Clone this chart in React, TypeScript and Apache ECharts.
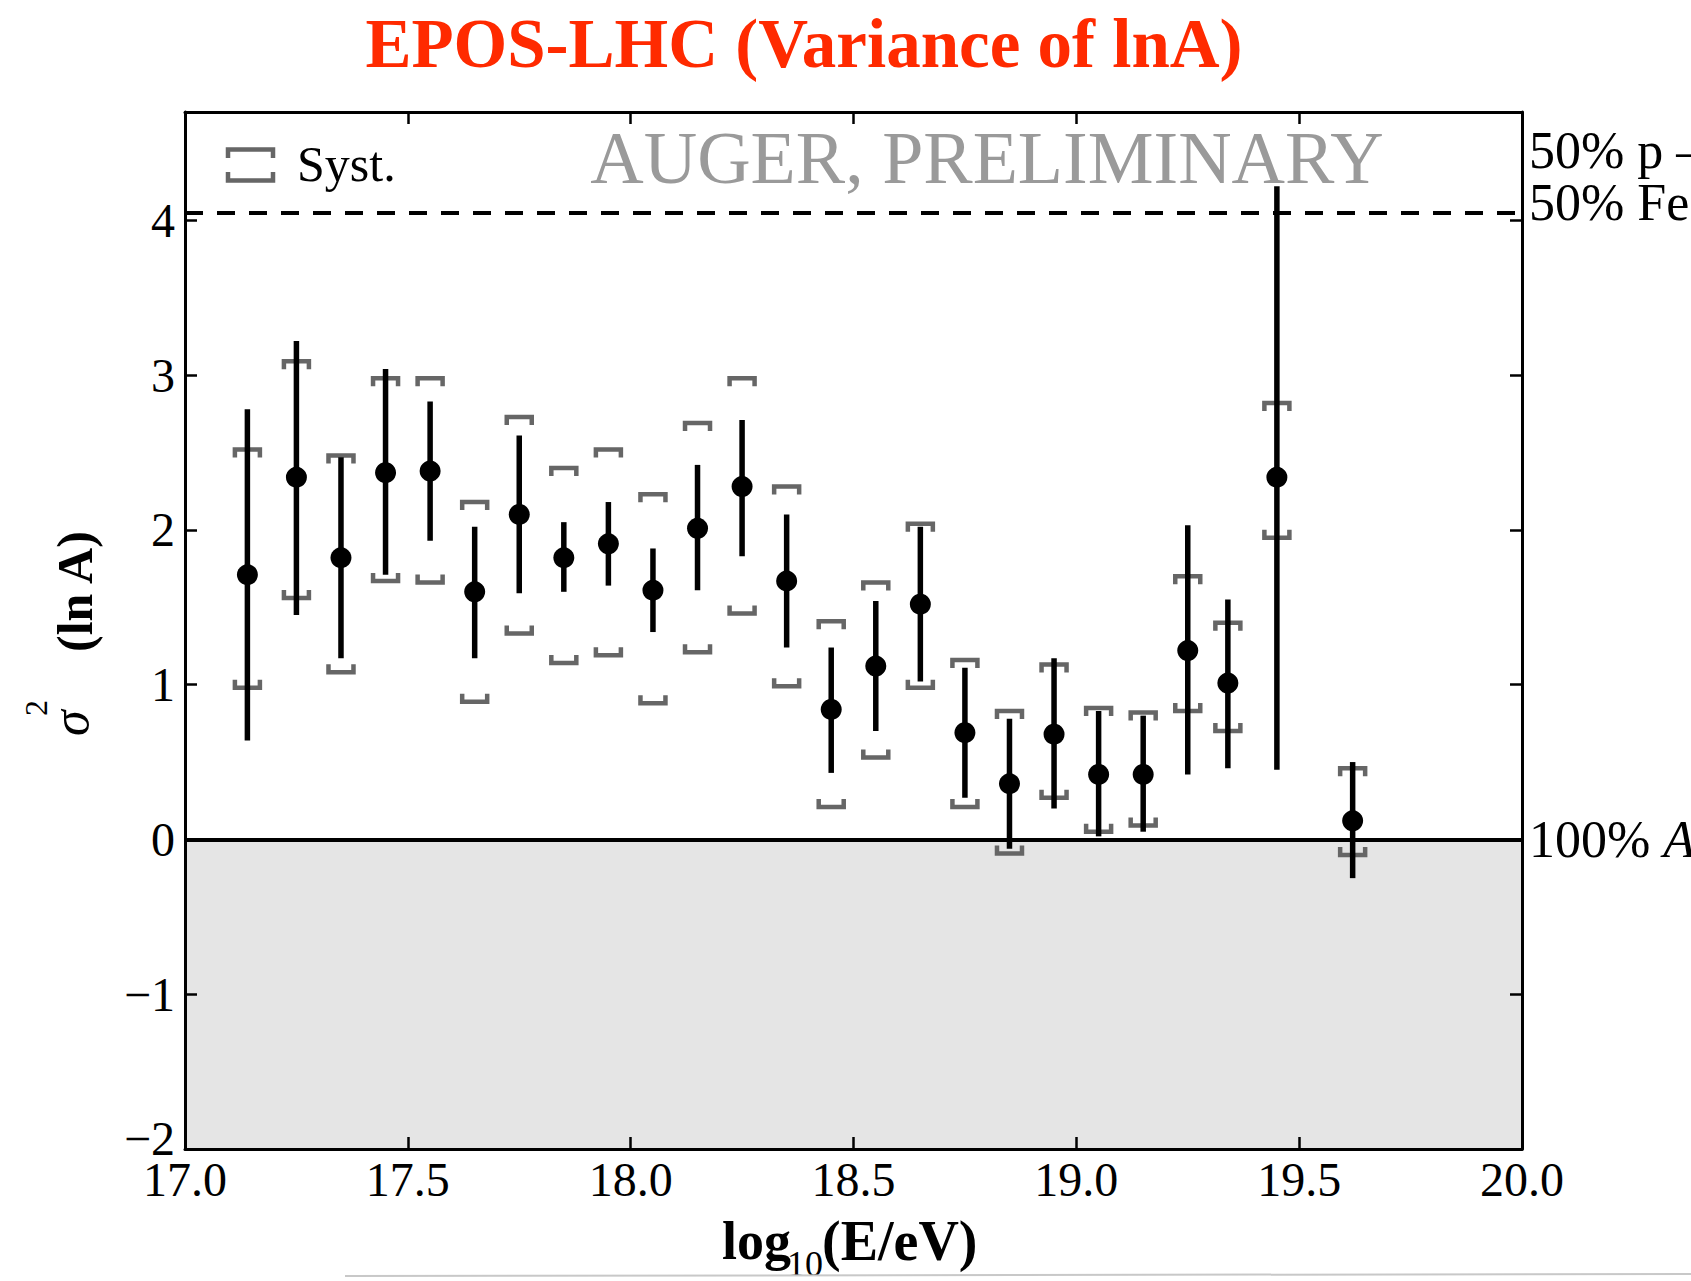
import React, { useEffect, useRef } from "react";
import * as echarts from "echarts";

// ---- data ----
const lgE = [17.14, 17.25, 17.35, 17.45, 17.55, 17.65, 17.75, 17.85, 17.95, 18.05, 18.15, 18.25, 18.35, 18.45, 18.55, 18.65, 18.75, 18.85, 18.95, 19.05, 19.15, 19.25, 19.34, 19.45, 19.62];
const variance = [1.71, 2.34, 1.82, 2.37, 2.38, 1.60, 2.10, 1.82, 1.91, 1.61, 2.01, 2.28, 1.67, 0.84, 1.12, 1.52, 0.69, 0.36, 0.68, 0.42, 0.42, 1.22, 1.01, 2.34, 0.12];
const statLow = [0.64, 1.45, 1.17, 1.71, 1.93, 1.17, 1.59, 1.60, 1.64, 1.34, 1.61, 1.83, 1.24, 0.43, 0.70, 1.02, 0.27, -0.06, 0.20, 0.02, 0.05, 0.42, 0.46, 0.45, -0.25];
const statHigh = [2.78, 3.22, 2.47, 3.04, 2.83, 2.02, 2.61, 2.05, 2.18, 1.88, 2.42, 2.71, 2.10, 1.24, 1.54, 2.02, 1.11, 0.78, 1.17, 0.83, 0.80, 2.03, 1.55, 4.22, 0.50];
const systLow = [0.98, 1.56, 1.08, 1.67, 1.66, 0.89, 1.33, 1.14, 1.19, 0.88, 1.21, 1.46, 0.99, 0.21, 0.53, 0.98, 0.21, -0.09, 0.27, 0.05, 0.09, 0.83, 0.70, 1.95, -0.10];
const systHigh = [2.52, 3.09, 2.48, 2.98, 2.98, 2.18, 2.73, 2.40, 2.52, 2.23, 2.69, 2.98, 2.28, 1.41, 1.66, 2.04, 1.16, 0.83, 1.13, 0.85, 0.82, 1.70, 1.40, 2.82, 0.46];

const pFeLevel = 4.05; // 50% p - 50% Fe
const pureLevel = 0; // 100% A
const xTicks = { min: 17, max: 20, step: 0.5 };
const yTicks = { min: -2, max: 4.7, step: 1 };

const SERIF = "'Liberation Serif', 'Times New Roman', serif";

export default function App() {
  const ref = useRef<HTMLDivElement>(null);

  useEffect(() => {
    if (!ref.current) return;
    const chart = echarts.init(ref.current, null, { renderer: "svg" });

    const statData = lgE.map((x, i) => [x, statLow[i], statHigh[i]]);
    const systData = lgE.map((x, i) => [x, systLow[i], systHigh[i]]);
    const pointData = lgE.map((x, i) => [x, variance[i]]);

    const yFmt = (v: number) => {
      if (Math.abs(v - Math.round(v)) > 1e-6) return "";
      const r = Math.round(v);
      if (r === yTicks.min) return "{lo|\u2212" + Math.abs(r) + "}";
      return r < 0 ? "\u2212" + Math.abs(r) : String(r);
    };

    const axisCommon = {
      axisLine: { show: true, onZero: false, lineStyle: { color: "#000", width: 3 } },
      axisTick: { show: true, inside: true, length: 12, lineStyle: { color: "#000", width: 2.5 } },
      splitLine: { show: false },
      z: 10,
    };

    const gray = "#666666";

    const option: any = {
      animation: false,
      backgroundColor: "#ffffff",
      grid: { left: 185, right: 169, top: 112, bottom: 132, containLabel: false },
      xAxis: [
        {
          type: "value",
          position: "bottom",
          min: xTicks.min,
          max: xTicks.max,
          interval: xTicks.step,
          ...axisCommon,
          axisLabel: {
            show: true,
            color: "#000",
            fontFamily: SERIF,
            fontSize: 48,
            margin: 6,
            formatter: (v: number) => v.toFixed(1),
          },
        },
        {
          type: "value",
          position: "top",
          min: xTicks.min,
          max: xTicks.max,
          interval: xTicks.step,
          ...axisCommon,
          axisLabel: { show: false },
        },
      ],
      yAxis: [
        {
          type: "value",
          position: "left",
          min: yTicks.min,
          max: yTicks.max,
          interval: yTicks.step,
          ...axisCommon,
          axisLabel: {
            show: true,
            color: "#000",
            fontFamily: SERIF,
            fontSize: 48,
            margin: 10,
            formatter: yFmt,
            rich: {
              lo: { fontFamily: SERIF, fontSize: 48, color: "#000", padding: [0, 0, 22, 0] },
            },
          },
        },
        {
          type: "value",
          position: "right",
          min: yTicks.min,
          max: yTicks.max,
          interval: yTicks.step,
          ...axisCommon,
          axisLabel: { show: false },
        },
      ],
      series: [
        {
          type: "line",
          data: [],
          z: 1,
          silent: true,
          markArea: {
            silent: true,
            itemStyle: { color: "#e5e5e5" },
            data: [[{ yAxis: yTicks.min }, { yAxis: pureLevel }]],
          },
          markLine: {
            silent: true,
            symbol: "none",
            label: { show: false },
            data: [
              { yAxis: pureLevel, lineStyle: { color: "#000", width: 4, type: "solid" } },
              { yAxis: pFeLevel, lineStyle: { color: "#000", width: 4, type: [18, 14] } },
            ],
          },
        },
        {
          type: "custom",
          z: 3,
          silent: true,
          data: systData,
          renderItem: (params: any, api: any) => {
            const x = api.value(0);
            const lo = api.coord([x, api.value(1)]);
            const hi = api.coord([x, api.value(2)]);
            const w = 12.5;
            const leg = 8;
            const st = { stroke: gray, lineWidth: 4.5, fill: null, lineJoin: "miter", lineCap: "butt" };
            return {
              type: "group",
              children: [
                {
                  type: "polyline",
                  shape: { points: [[hi[0] - w, hi[1] + leg], [hi[0] - w, hi[1]], [hi[0] + w, hi[1]], [hi[0] + w, hi[1] + leg]] },
                  style: st,
                },
                {
                  type: "polyline",
                  shape: { points: [[lo[0] - w, lo[1] - leg], [lo[0] - w, lo[1]], [lo[0] + w, lo[1]], [lo[0] + w, lo[1] - leg]] },
                  style: st,
                },
              ],
            };
          },
        },
        {
          type: "custom",
          z: 4,
          silent: true,
          data: statData,
          renderItem: (params: any, api: any) => {
            const x = api.value(0);
            const lo = api.coord([x, api.value(1)]);
            const hi = api.coord([x, api.value(2)]);
            return {
              type: "line",
              shape: { x1: lo[0], y1: lo[1], x2: hi[0], y2: hi[1] },
              style: { stroke: "#000", lineWidth: 5.5, lineCap: "butt" },
            };
          },
        },
        {
          type: "scatter",
          z: 5,
          silent: true,
          symbol: "circle",
          symbolSize: 21,
          itemStyle: { color: "#000", opacity: 1 },
          data: pointData,
        },
      ],
      graphic: [
        {
          type: "text",
          x: 804,
          y: 44,
          style: {
            text: "EPOS-LHC (Variance of lnA)",
            fill: "#ff2a00",
            font: `bold 69px ${SERIF}`,
            textAlign: "center",
            textVerticalAlign: "middle",
          },
        },
        {
          type: "text",
          x: 987,
          y: 158,
          z: 20,
          style: {
            text: "AUGER, PRELIMINARY",
            fill: "#9a9a9a",
            font: `74px ${SERIF}`,
            textAlign: "center",
            textVerticalAlign: "middle",
          },
        },
        // legend icon
        {
          type: "polyline",
          z: 20,
          shape: { points: [[228, 158], [228, 149.5], [273, 149.5], [273, 158]] },
          style: { stroke: gray, lineWidth: 4.5, fill: null },
        },
        {
          type: "polyline",
          z: 20,
          shape: { points: [[228, 172], [228, 180.5], [273, 180.5], [273, 172]] },
          style: { stroke: gray, lineWidth: 4.5, fill: null },
        },
        {
          type: "text",
          x: 297,
          y: 164,
          z: 20,
          style: { text: "Syst.", fill: "#000", font: `50px ${SERIF}`, textVerticalAlign: "middle" },
        },
        // right side labels
        {
          type: "text",
          x: 1529,
          y: 150,
          style: { text: "50% p \u2013", fill: "#000", font: `52px ${SERIF}`, textVerticalAlign: "middle" },
        },
        {
          type: "text",
          x: 1529,
          y: 202,
          style: { text: "50% Fe", fill: "#000", font: `52px ${SERIF}`, textVerticalAlign: "middle" },
        },
        {
          type: "text",
          x: 1529,
          y: 839,
          style: {
            text: "{n|100% }{i|A}",
            fill: "#000",
            textVerticalAlign: "middle",
            rich: {
              n: { font: `52px ${SERIF}`, fill: "#000" },
              i: { font: `italic 52px ${SERIF}`, fill: "#000" },
            },
          },
        },
        // x axis title: log_10(E/eV)
        {
          type: "text",
          x: 722,
          y: 1241,
          style: { text: "log", fill: "#000", font: `bold 54px ${SERIF}`, textVerticalAlign: "middle" },
        },
        {
          type: "text",
          x: 787,
          y: 1264,
          style: { text: "10", fill: "#000", font: `36px ${SERIF}`, textVerticalAlign: "middle" },
        },
        {
          type: "text",
          x: 822,
          y: 1241,
          style: { text: "(E/eV)", fill: "#000", font: `bold 56px ${SERIF}`, textVerticalAlign: "middle" },
        },
        // y axis title (rotated): sigma^2 (ln A)
        {
          type: "group",
          x: 100,
          y: 736,
          rotation: Math.PI / 2,
          children: [
            {
              type: "text",
              x: 0,
              y: -30,
              style: { text: "\u03c3", fill: "#000", font: `italic 52px ${SERIF}`, textVerticalAlign: "middle" },
            },
            {
              type: "text",
              x: 20,
              y: -64,
              style: { text: "2", fill: "#000", font: `32px ${SERIF}`, textVerticalAlign: "middle" },
            },
            {
              type: "text",
              x: 84,
              y: -25,
              style: { text: "(ln A)", fill: "#000", font: `bold 50px ${SERIF}`, textVerticalAlign: "middle" },
            },
          ],
        },
        // faint scan artifact line at the bottom
        {
          type: "line",
          shape: { x1: 345, y1: 1276, x2: 1691, y2: 1274 },
          style: { stroke: "#c8c8c8", lineWidth: 2 },
        },
      ],
    };

    chart.setOption(option);
    return () => chart.dispose();
  }, []);

  return (
    <div
      ref={ref}
      style={{ position: "absolute", left: 0, top: 0, width: 1691, height: 1281 }}
    />
  );
}
